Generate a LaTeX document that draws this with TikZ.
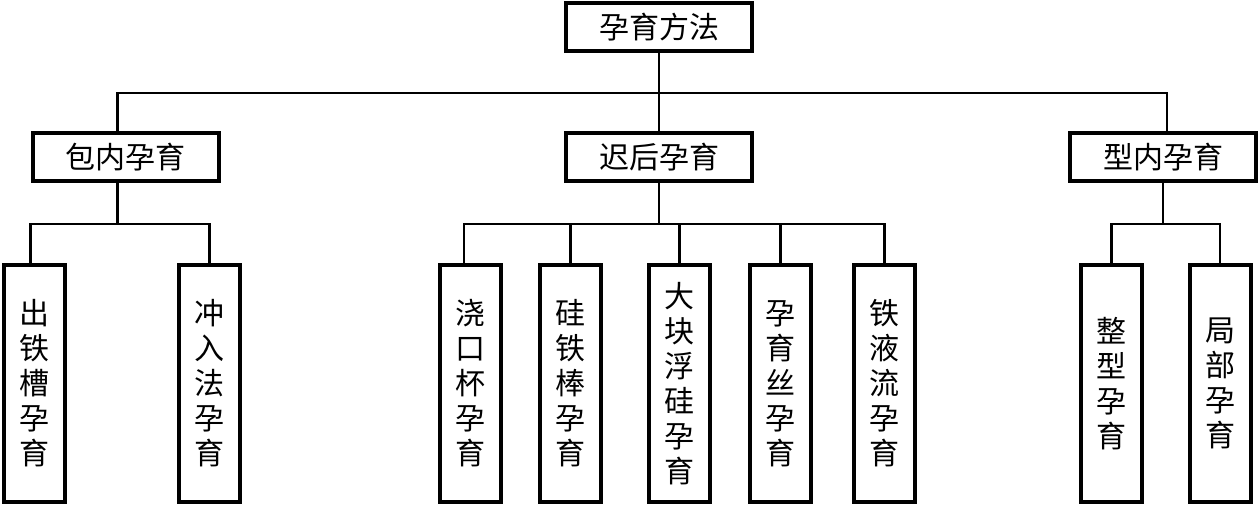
\documentclass[tikz,border=0pt]{standalone}
\usepackage{fontspec}
\newfontfamily\cjk{Noto Sans CJK SC}
\begin{document}
\begin{tikzpicture}[x=1pt,y=-1pt,
  box/.style={draw,line width=4pt,inner sep=0pt,font=\cjk\fontsize{30}{35}\selectfont,align=center},
  hbox/.style={box,minimum width=186pt,minimum height=48pt},
  vbox/.style={box,minimum width=61pt,minimum height=237pt},
  conn/.style={line width=2.6pt}]
\useasboundingbox (0,0) rectangle (1259,506);
\node[hbox] (top) at (659,27) {孕育方法};
\node[hbox] (b1) at (125.5,157) {包内孕育};
\node[hbox] (b2) at (659,157) {迟后孕育};
\node[hbox] (b3) at (1163,157) {型内孕育};
\node[vbox] (l1) at (34.5,383.5) {出\\铁\\槽\\孕\\育};
\node[vbox] (l2) at (209.5,383.5) {冲\\入\\法\\孕\\育};
\node[vbox] (l3) at (470,383.5) {浇\\口\\杯\\孕\\育};
\node[vbox] (l4) at (570.5,383.5) {硅\\铁\\棒\\孕\\育};
\node[vbox] (l5) at (679.5,383.5) {大\\块\\浮\\硅\\孕\\育};
\node[vbox] (l6) at (780.5,383.5) {孕\\育\\丝\\孕\\育};
\node[vbox] (l7) at (884.5,383.5) {铁\\液\\流\\孕\\育};
\node[vbox] (l8) at (1111.5,383.5) {整\\型\\孕\\育};
\node[vbox] (l9) at (1220,383.5) {局\\部\\孕\\育};
\coordinate (h) at (0,93);
\coordinate (c) at (0,224);
% level 1 to level 2
\draw[conn] (top.south) -- (b2.north);
\draw[conn] ([xshift=-8pt]b1.north) |- ([xshift=4pt]b3.north |- h) -- ([xshift=4pt]b3.north);
% level 2 to leaves
\draw[conn] ([xshift=-8pt]b1.south) -- ([xshift=-8pt]b1.south |- c);
\draw[conn] ([xshift=-4pt]l1.north) |- (l2.north |- c) -- (l2.north);
\draw[conn] (b2.south) -- (b2.south |- c);
\draw[conn] ([xshift=-6pt]l3.north) |- (l7.north |- c) -- (l7.north);
\draw[conn] (l4.north) -- (l4.north |- c);
\draw[conn] (l5.north) -- (l5.north |- c);
\draw[conn] (l6.north) -- (l6.north |- c);
\draw[conn] (b3.south) -- (b3.south |- c);
\draw[conn] (l8.north) |- (l9.north |- c) -- (l9.north);
\end{tikzpicture}
\end{document}
